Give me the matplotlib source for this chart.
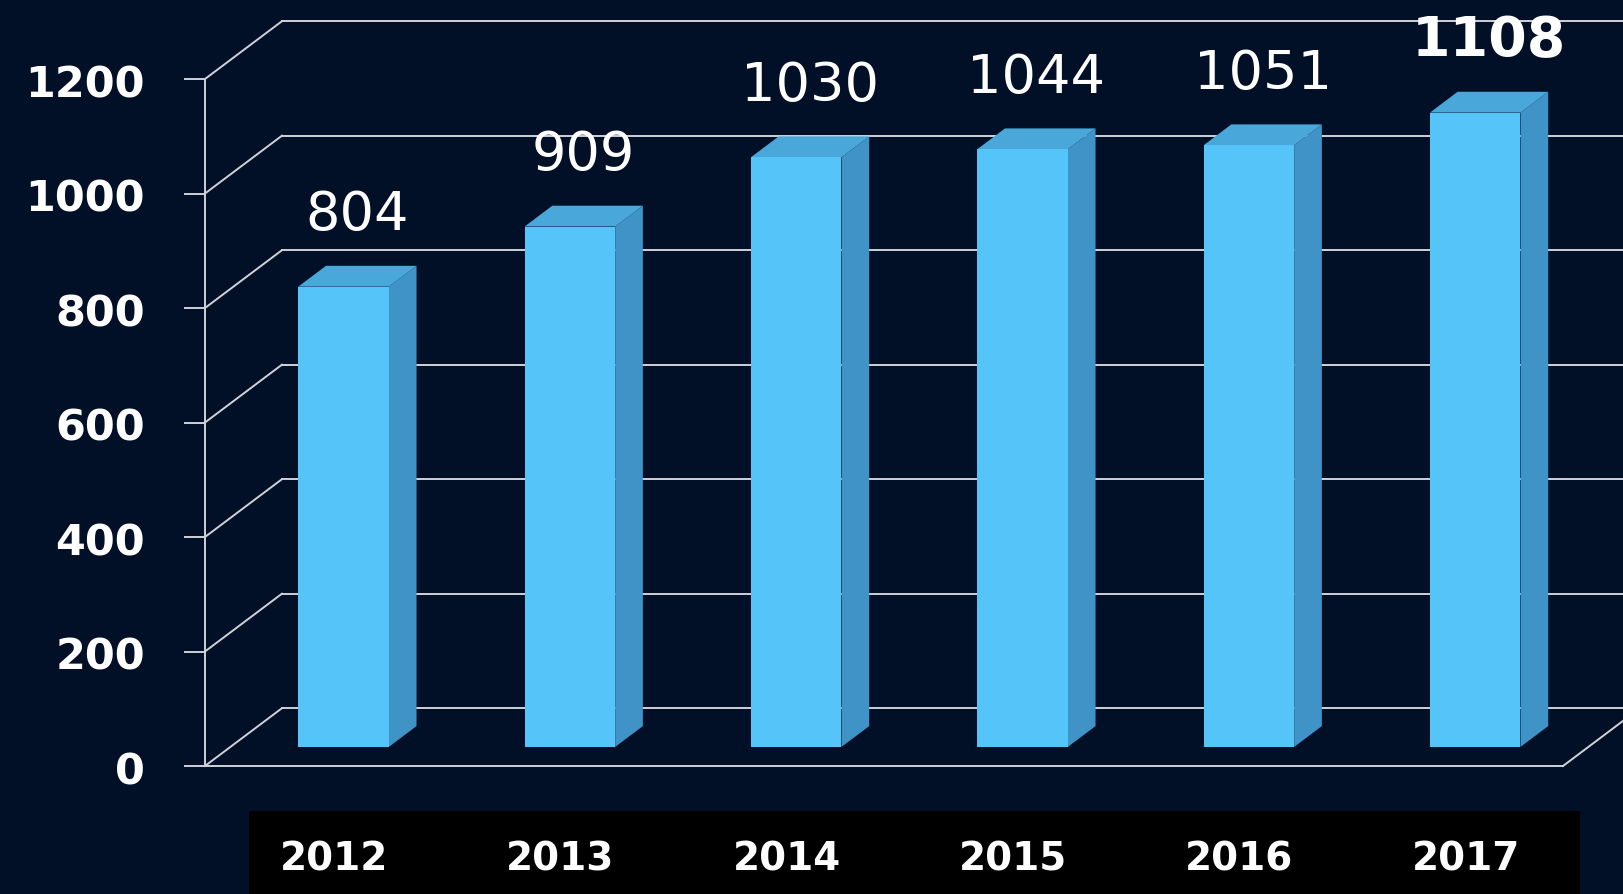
#!/usr/bin/env python3
"""Pseudo-3D yearly bar chart on a dark navy background."""

from __future__ import annotations

import matplotlib

matplotlib.use("Agg")
import matplotlib.pyplot as plt  # noqa: E402
from matplotlib.patches import Polygon, Rectangle  # noqa: E402

plt.rcParams["font.family"] = ["DejaVu Sans"]

YEARS = ["2012", "2013", "2014", "2015", "2016", "2017"]
VALUES = [804, 909, 1030, 1044, 1051, 1108]
BOLD_LABELS = ["1108"]
Y_TICKS = [0, 200, 400, 600, 800, 1000, 1200]

BG_COLOR = "#011027"
GRID_COLOR = "#cfd3d8"
FRONT_COLOR = "#55c4f8"
SIDE_COLOR = "#3f93c6"
TOP_COLOR = "#4aa7da"

FIG_W, FIG_H = 1624, 895
# projection of the depth axis (full depth), in data units
DEPTH_DX = 0.34
DEPTH_DY = 101.0
BAR_FRONT = 0.33
BAR_BACK = 0.69
BAR_WIDTH = 0.40


def shift(x: float, y: float, depth: float) -> tuple[float, float]:
    return x + depth * DEPTH_DX, y + depth * DEPTH_DY


def draw_walls(ax: plt.Axes) -> None:
    n = len(YEARS)
    kw = dict(color=GRID_COLOR, linewidth=1.4, clip_on=False, zorder=1)
    for tick in Y_TICKS:
        bx, by = shift(0, tick, 1.0)
        ax.plot([0, bx], [tick, by], **kw)
        ax.plot([bx, shift(n + 0.5, tick, 1.0)[0]], [by, by], **kw)
        ax.plot([-0.088, 0], [tick, tick], **kw)
        ax.text(
            -0.265,
            tick - 9,
            str(tick),
            ha="right",
            va="center",
            color="white",
            fontsize=31,
            fontweight="bold",
        )
    ax.plot([0, 0], [0, Y_TICKS[-1]], **kw)
    ax.plot([0, n], [0, 0], **kw)
    ax.plot([n, shift(n, 0, 1.0)[0]], [0, shift(n, 0, 1.0)[1]], **kw)


def draw_bars(ax: plt.Axes) -> None:
    positions = [i + 0.5 for i in range(len(YEARS))]
    fx = [shift(p, 0, BAR_FRONT)[0] for p in positions]
    base = BAR_FRONT * DEPTH_DY
    ax.bar(
        fx,
        VALUES,
        width=BAR_WIDTH,
        bottom=base,
        color=FRONT_COLOR,
        linewidth=0,
        zorder=3,
        clip_on=False,
    )
    depth = BAR_BACK - BAR_FRONT
    for x, value in zip(fx, VALUES):
        left, right = x - BAR_WIDTH / 2, x + BAR_WIDTH / 2
        top = base + value
        side = [
            (right, base),
            (right, top),
            shift(right, top, depth),
            shift(right, base, depth),
        ]
        lid = [
            (left, top),
            (right, top),
            shift(right, top, depth),
            shift(left, top, depth),
        ]
        ax.add_patch(Polygon(side, closed=True, facecolor=SIDE_COLOR,
                             edgecolor="none", zorder=2, clip_on=False))
        ax.add_patch(Polygon(lid, closed=True, facecolor=TOP_COLOR,
                             edgecolor="none", zorder=2, clip_on=False))

        label = str(value)
        cx = shift(x, 0, depth / 2)[0]
        ax.text(
            cx,
            top + 126,
            label,
            ha="center",
            va="center",
            color="white",
            fontsize=40 if label in BOLD_LABELS else 39,
            fontweight="bold" if label in BOLD_LABELS else "normal",
            zorder=5,
        )


def draw_categories(fig: plt.Figure, ax: plt.Axes) -> None:
    ax.add_patch(
        Rectangle(
            (249 / FIG_W, 0),
            (1580 - 249) / FIG_W,
            (FIG_H - 812) / FIG_H,
            transform=fig.transFigure,
            facecolor="black",
            edgecolor="none",
            zorder=0,
            clip_on=False,
        )
    )
    for i, year in enumerate(YEARS):
        ax.text(
            i + 0.57,
            -162,
            year,
            ha="center",
            va="center",
            color="white",
            fontsize=28,
            fontweight="bold",
            zorder=5,
        )


def main() -> None:
    fig = plt.figure(figsize=(FIG_W / 100, FIG_H / 100), dpi=100)
    fig.patch.set_facecolor(BG_COLOR)
    ax = fig.add_axes(
        (205 / FIG_W, (FIG_H - 767) / FIG_H, 1358 / FIG_W, 687 / FIG_H)
    )
    ax.set_xlim(0, len(YEARS))
    ax.set_ylim(0, Y_TICKS[-1])
    ax.axis("off")

    draw_walls(ax)
    draw_bars(ax)
    draw_categories(fig, ax)

    fig.savefig("out.png", dpi=100, facecolor=fig.get_facecolor())
    plt.close(fig)


if __name__ == "__main__":
    main()
